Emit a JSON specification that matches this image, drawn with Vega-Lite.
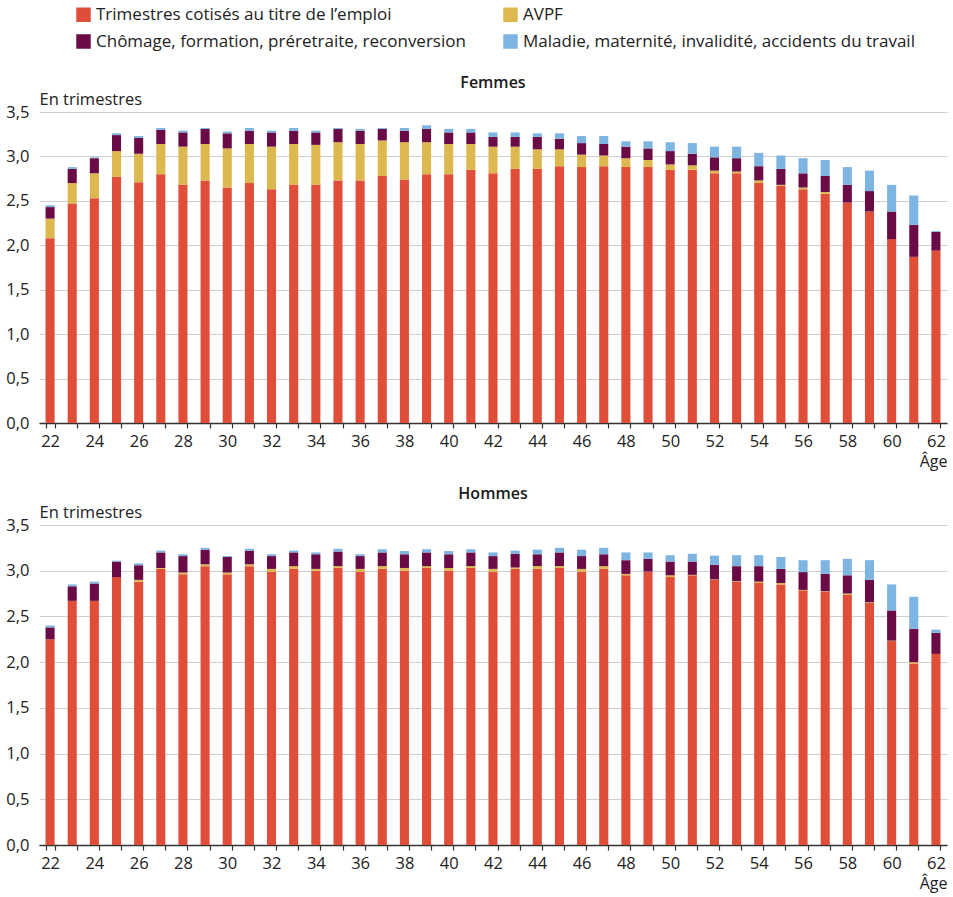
{
  "$schema": "https://vega.github.io/schema/vega-lite/v6.json",
  "background": "white",
  "padding": {"left": 5, "top": 6, "right": 4, "bottom": 4},
  "datasets": {
    "d": [
      {"sexe":"F","age":22,"a_emploi":2.08,"b_avpf":0.22,"c_chomage":0.13,"d_maladie":0.02},
      {"sexe":"F","age":23,"a_emploi":2.47,"b_avpf":0.23,"c_chomage":0.16,"d_maladie":0.02},
      {"sexe":"F","age":24,"a_emploi":2.53,"b_avpf":0.28,"c_chomage":0.17,"d_maladie":0.01},
      {"sexe":"F","age":25,"a_emploi":2.77,"b_avpf":0.29,"c_chomage":0.18,"d_maladie":0.02},
      {"sexe":"F","age":26,"a_emploi":2.71,"b_avpf":0.32,"c_chomage":0.18,"d_maladie":0.02},
      {"sexe":"F","age":27,"a_emploi":2.80,"b_avpf":0.34,"c_chomage":0.16,"d_maladie":0.02},
      {"sexe":"F","age":28,"a_emploi":2.68,"b_avpf":0.43,"c_chomage":0.16,"d_maladie":0.02},
      {"sexe":"F","age":29,"a_emploi":2.73,"b_avpf":0.41,"c_chomage":0.17,"d_maladie":0.01},
      {"sexe":"F","age":30,"a_emploi":2.65,"b_avpf":0.44,"c_chomage":0.17,"d_maladie":0.02},
      {"sexe":"F","age":31,"a_emploi":2.70,"b_avpf":0.44,"c_chomage":0.15,"d_maladie":0.03},
      {"sexe":"F","age":32,"a_emploi":2.63,"b_avpf":0.48,"c_chomage":0.16,"d_maladie":0.02},
      {"sexe":"F","age":33,"a_emploi":2.68,"b_avpf":0.46,"c_chomage":0.15,"d_maladie":0.03},
      {"sexe":"F","age":34,"a_emploi":2.68,"b_avpf":0.45,"c_chomage":0.14,"d_maladie":0.02},
      {"sexe":"F","age":35,"a_emploi":2.73,"b_avpf":0.43,"c_chomage":0.15,"d_maladie":0.01},
      {"sexe":"F","age":36,"a_emploi":2.73,"b_avpf":0.41,"c_chomage":0.15,"d_maladie":0.02},
      {"sexe":"F","age":37,"a_emploi":2.78,"b_avpf":0.40,"c_chomage":0.13,"d_maladie":0.01},
      {"sexe":"F","age":38,"a_emploi":2.74,"b_avpf":0.42,"c_chomage":0.13,"d_maladie":0.03},
      {"sexe":"F","age":39,"a_emploi":2.80,"b_avpf":0.36,"c_chomage":0.15,"d_maladie":0.04},
      {"sexe":"F","age":40,"a_emploi":2.80,"b_avpf":0.34,"c_chomage":0.13,"d_maladie":0.04},
      {"sexe":"F","age":41,"a_emploi":2.85,"b_avpf":0.29,"c_chomage":0.13,"d_maladie":0.04},
      {"sexe":"F","age":42,"a_emploi":2.81,"b_avpf":0.30,"c_chomage":0.11,"d_maladie":0.05},
      {"sexe":"F","age":43,"a_emploi":2.86,"b_avpf":0.25,"c_chomage":0.11,"d_maladie":0.05},
      {"sexe":"F","age":44,"a_emploi":2.86,"b_avpf":0.22,"c_chomage":0.14,"d_maladie":0.04},
      {"sexe":"F","age":45,"a_emploi":2.89,"b_avpf":0.19,"c_chomage":0.12,"d_maladie":0.06},
      {"sexe":"F","age":46,"a_emploi":2.88,"b_avpf":0.14,"c_chomage":0.13,"d_maladie":0.08},
      {"sexe":"F","age":47,"a_emploi":2.89,"b_avpf":0.12,"c_chomage":0.13,"d_maladie":0.09},
      {"sexe":"F","age":48,"a_emploi":2.88,"b_avpf":0.10,"c_chomage":0.13,"d_maladie":0.06},
      {"sexe":"F","age":49,"a_emploi":2.88,"b_avpf":0.08,"c_chomage":0.13,"d_maladie":0.08},
      {"sexe":"F","age":50,"a_emploi":2.85,"b_avpf":0.06,"c_chomage":0.15,"d_maladie":0.10},
      {"sexe":"F","age":51,"a_emploi":2.85,"b_avpf":0.05,"c_chomage":0.13,"d_maladie":0.12},
      {"sexe":"F","age":52,"a_emploi":2.81,"b_avpf":0.03,"c_chomage":0.15,"d_maladie":0.12},
      {"sexe":"F","age":53,"a_emploi":2.81,"b_avpf":0.02,"c_chomage":0.15,"d_maladie":0.13},
      {"sexe":"F","age":54,"a_emploi":2.70,"b_avpf":0.03,"c_chomage":0.16,"d_maladie":0.15},
      {"sexe":"F","age":55,"a_emploi":2.67,"b_avpf":0.01,"c_chomage":0.18,"d_maladie":0.15},
      {"sexe":"F","age":56,"a_emploi":2.63,"b_avpf":0.02,"c_chomage":0.16,"d_maladie":0.17},
      {"sexe":"F","age":57,"a_emploi":2.58,"b_avpf":0.02,"c_chomage":0.18,"d_maladie":0.18},
      {"sexe":"F","age":58,"a_emploi":2.48,"b_avpf":0.00,"c_chomage":0.20,"d_maladie":0.20},
      {"sexe":"F","age":59,"a_emploi":2.38,"b_avpf":0.00,"c_chomage":0.23,"d_maladie":0.23},
      {"sexe":"F","age":60,"a_emploi":2.07,"b_avpf":0.00,"c_chomage":0.31,"d_maladie":0.30},
      {"sexe":"F","age":61,"a_emploi":1.87,"b_avpf":0.00,"c_chomage":0.36,"d_maladie":0.33},
      {"sexe":"F","age":62,"a_emploi":1.94,"b_avpf":0.00,"c_chomage":0.21,"d_maladie":0.01},
      {"sexe":"H","age":22,"a_emploi":2.25,"b_avpf":0.00,"c_chomage":0.13,"d_maladie":0.02},
      {"sexe":"H","age":23,"a_emploi":2.67,"b_avpf":0.00,"c_chomage":0.16,"d_maladie":0.02},
      {"sexe":"H","age":24,"a_emploi":2.67,"b_avpf":0.00,"c_chomage":0.19,"d_maladie":0.02},
      {"sexe":"H","age":25,"a_emploi":2.93,"b_avpf":0.00,"c_chomage":0.17,"d_maladie":0.01},
      {"sexe":"H","age":26,"a_emploi":2.88,"b_avpf":0.02,"c_chomage":0.16,"d_maladie":0.02},
      {"sexe":"H","age":27,"a_emploi":3.02,"b_avpf":0.01,"c_chomage":0.17,"d_maladie":0.02},
      {"sexe":"H","age":28,"a_emploi":2.96,"b_avpf":0.02,"c_chomage":0.18,"d_maladie":0.02},
      {"sexe":"H","age":29,"a_emploi":3.05,"b_avpf":0.02,"c_chomage":0.16,"d_maladie":0.02},
      {"sexe":"H","age":30,"a_emploi":2.96,"b_avpf":0.02,"c_chomage":0.17,"d_maladie":0.01},
      {"sexe":"H","age":31,"a_emploi":3.05,"b_avpf":0.02,"c_chomage":0.15,"d_maladie":0.02},
      {"sexe":"H","age":32,"a_emploi":2.99,"b_avpf":0.03,"c_chomage":0.14,"d_maladie":0.02},
      {"sexe":"H","age":33,"a_emploi":3.02,"b_avpf":0.03,"c_chomage":0.15,"d_maladie":0.02},
      {"sexe":"H","age":34,"a_emploi":3.00,"b_avpf":0.02,"c_chomage":0.16,"d_maladie":0.02},
      {"sexe":"H","age":35,"a_emploi":3.03,"b_avpf":0.02,"c_chomage":0.16,"d_maladie":0.03},
      {"sexe":"H","age":36,"a_emploi":2.99,"b_avpf":0.03,"c_chomage":0.14,"d_maladie":0.02},
      {"sexe":"H","age":37,"a_emploi":3.02,"b_avpf":0.03,"c_chomage":0.15,"d_maladie":0.035},
      {"sexe":"H","age":38,"a_emploi":3.00,"b_avpf":0.03,"c_chomage":0.15,"d_maladie":0.035},
      {"sexe":"H","age":39,"a_emploi":3.03,"b_avpf":0.02,"c_chomage":0.15,"d_maladie":0.035},
      {"sexe":"H","age":40,"a_emploi":3.00,"b_avpf":0.03,"c_chomage":0.15,"d_maladie":0.035},
      {"sexe":"H","age":41,"a_emploi":3.03,"b_avpf":0.02,"c_chomage":0.15,"d_maladie":0.035},
      {"sexe":"H","age":42,"a_emploi":2.99,"b_avpf":0.03,"c_chomage":0.14,"d_maladie":0.04},
      {"sexe":"H","age":43,"a_emploi":3.02,"b_avpf":0.015,"c_chomage":0.15,"d_maladie":0.035},
      {"sexe":"H","age":44,"a_emploi":3.02,"b_avpf":0.03,"c_chomage":0.13,"d_maladie":0.05},
      {"sexe":"H","age":45,"a_emploi":3.03,"b_avpf":0.02,"c_chomage":0.15,"d_maladie":0.05},
      {"sexe":"H","age":46,"a_emploi":2.99,"b_avpf":0.03,"c_chomage":0.14,"d_maladie":0.07},
      {"sexe":"H","age":47,"a_emploi":3.02,"b_avpf":0.03,"c_chomage":0.13,"d_maladie":0.07},
      {"sexe":"H","age":48,"a_emploi":2.95,"b_avpf":0.015,"c_chomage":0.15,"d_maladie":0.085},
      {"sexe":"H","age":49,"a_emploi":2.985,"b_avpf":0.005,"c_chomage":0.14,"d_maladie":0.07},
      {"sexe":"H","age":50,"a_emploi":2.93,"b_avpf":0.02,"c_chomage":0.15,"d_maladie":0.07},
      {"sexe":"H","age":51,"a_emploi":2.95,"b_avpf":0.005,"c_chomage":0.145,"d_maladie":0.085},
      {"sexe":"H","age":52,"a_emploi":2.90,"b_avpf":0.005,"c_chomage":0.16,"d_maladie":0.10},
      {"sexe":"H","age":53,"a_emploi":2.88,"b_avpf":0.005,"c_chomage":0.165,"d_maladie":0.12},
      {"sexe":"H","age":54,"a_emploi":2.865,"b_avpf":0.015,"c_chomage":0.17,"d_maladie":0.12},
      {"sexe":"H","age":55,"a_emploi":2.85,"b_avpf":0.015,"c_chomage":0.155,"d_maladie":0.13},
      {"sexe":"H","age":56,"a_emploi":2.785,"b_avpf":0.005,"c_chomage":0.195,"d_maladie":0.13},
      {"sexe":"H","age":57,"a_emploi":2.77,"b_avpf":0.005,"c_chomage":0.19,"d_maladie":0.15},
      {"sexe":"H","age":58,"a_emploi":2.735,"b_avpf":0.015,"c_chomage":0.20,"d_maladie":0.18},
      {"sexe":"H","age":59,"a_emploi":2.65,"b_avpf":0.005,"c_chomage":0.245,"d_maladie":0.215},
      {"sexe":"H","age":60,"a_emploi":2.23,"b_avpf":0.005,"c_chomage":0.33,"d_maladie":0.285},
      {"sexe":"H","age":61,"a_emploi":1.985,"b_avpf":0.015,"c_chomage":0.365,"d_maladie":0.35},
      {"sexe":"H","age":62,"a_emploi":2.09,"b_avpf":0.00,"c_chomage":0.23,"d_maladie":0.035}
    ]
  },
  "data": {"name": "d"},
  "spacing": 16,
  "vconcat": [
    {
      "title": {"text": "Femmes", "frame": "group", "anchor": "middle", "offset": 0},
      "width": 908,
      "height": 311,
      "transform": [
        {"filter": "datum.sexe == 'F'"},
        {"fold": ["a_emploi", "b_avpf", "c_chomage", "d_maladie"], "as": ["cat", "val"]}
      ],
      "mark": {"type": "bar"},
      "encoding": {
        "x": {"field": "age", "type": "ordinal", "scale": {"paddingInner": 0.59, "paddingOuter": 0.295}, "axis": {"title": "Âge"}},
        "y": {"field": "val", "type": "quantitative", "stack": "zero", "scale": {"domain": [0, 3.5]}, "axis": {"title": "En trimestres"}},
        "color": {
          "field": "cat", "type": "nominal",
          "scale": {"domain": ["a_emploi", "b_avpf", "c_chomage", "d_maladie"], "range": ["#E04E39", "#DDB84F", "#6B0B45", "#7DB4E2"]},
          "legend": {
            "orient": "none", "legendX": 36, "legendY": -106, "direction": "horizontal", "columns": 2,
            "labelExpr": "datum.value == 'a_emploi' ? 'Trimestres cotisés au titre de l’emploi' : datum.value == 'b_avpf' ? 'AVPF' : datum.value == 'c_chomage' ? 'Chômage, formation, préretraite, reconversion' : 'Maladie, maternité, invalidité, accidents du travail'"
          }
        },
        "order": {"field": "cat", "type": "nominal"}
      }
    },
    {
      "title": {"text": "Hommes", "frame": "group", "anchor": "middle", "offset": 2},
      "width": 908,
      "height": 320,
      "transform": [
        {"filter": "datum.sexe == 'H'"},
        {"fold": ["a_emploi", "b_avpf", "c_chomage", "d_maladie"], "as": ["cat", "val"]}
      ],
      "mark": {"type": "bar"},
      "encoding": {
        "x": {"field": "age", "type": "ordinal", "scale": {"paddingInner": 0.59, "paddingOuter": 0.295}, "axis": {"title": "Âge"}},
        "y": {"field": "val", "type": "quantitative", "stack": "zero", "scale": {"domain": [0, 3.5]}, "axis": {"title": "En trimestres"}},
        "color": {
          "field": "cat", "type": "nominal",
          "scale": {"domain": ["a_emploi", "b_avpf", "c_chomage", "d_maladie"], "range": ["#E04E39", "#DDB84F", "#6B0B45", "#7DB4E2"]},
          "legend": {
            "orient": "none", "legendX": 36, "legendY": -106, "direction": "horizontal", "columns": 2,
            "labelExpr": "datum.value == 'a_emploi' ? 'Trimestres cotisés au titre de l’emploi' : datum.value == 'b_avpf' ? 'AVPF' : datum.value == 'c_chomage' ? 'Chômage, formation, préretraite, reconversion' : 'Maladie, maternité, invalidité, accidents du travail'"
          }
        },
        "order": {"field": "cat", "type": "nominal"}
      }
    }
  ],
  "config": {
    "font": "Open Sans",
    "view": {"stroke": null},
    "title": {"fontSize": 16, "fontWeight": 600, "color": "#1a1a1a"},
    "axisX": {
      "titleAnchor": "end", "titleAlign": "right", "titleFontSize": 16, "titleFontWeight": "normal", "titleColor": "#222", "titlePadding": 4,
      "labelAngle": 0, "labelFontSize": 16.5, "labelColor": "#222", "labelPadding": 5, "labelOverlap": false,
      "labelExpr": "datum.value % 2 == 0 ? datum.label : ''",
      "tickBand": "extent", "tickSize": 5, "tickColor": "#333", "tickWidth": 1.2,
      "domainColor": "#333", "domainWidth": 1.5, "grid": false
    },
    "axisY": {
      "titleAngle": 0, "titleAlign": "left", "titleBaseline": "bottom", "titleX": 0, "titleY": -5,
      "titleFontSize": 16.5, "titleFontWeight": "normal", "titleColor": "#222",
      "values": [0, 0.5, 1, 1.5, 2, 2.5, 3, 3.5],
      "labelExpr": "replace(format(datum.value, '.1f'), '.', ',')",
      "labelFontSize": 16.5, "labelColor": "#222", "labelPadding": 10,
      "domain": false, "ticks": false, "gridColor": "#cfcfcf", "gridWidth": 1.2
    },
    "legend": {
      "title": null, "symbolType": "square", "symbolSize": 210, "symbolStrokeWidth": 0,
      "labelFontSize": 17, "labelColor": "#222", "labelLimit": 0, "columnPadding": 36, "rowPadding": 9
    }
  }
}
